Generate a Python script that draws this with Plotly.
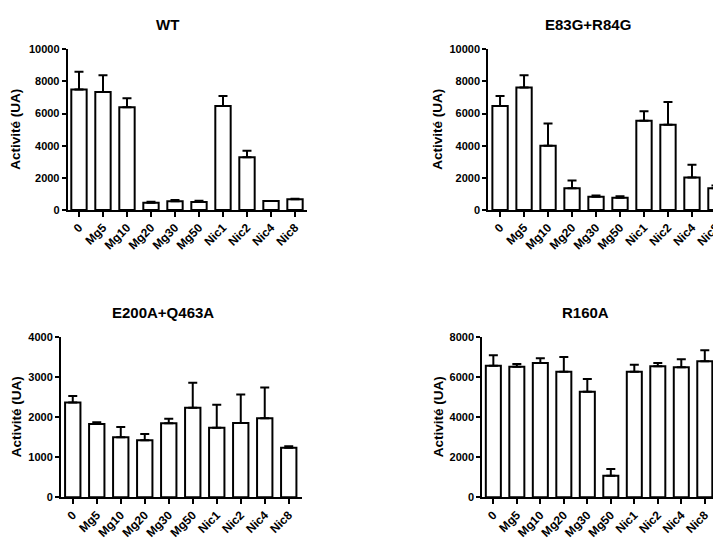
import plotly.graph_objects as go

categories = ["0", "Mg5", "Mg10", "Mg20", "Mg30", "Mg50", "Nic1", "Nic2", "Nic4", "Nic8"]

wt_mean = [7500, 7350, 6390, 450, 540, 500, 6470, 3280, 560, 665]
wt_err = [1100, 1030, 560, 70, 80, 70, 620, 410, 0, 40]

e83_mean = [6470, 7630, 4000, 1350, 830, 770, 5560, 5310, 2030, 1350]
e83_err = [620, 750, 1390, 480, 70, 80, 580, 1410, 790, 180]

e200_mean = [2370, 1835, 1500, 1425, 1850, 2240, 1740, 1860, 1975, 1240]
e200_err = [165, 40, 260, 160, 115, 625, 575, 710, 770, 35]

r160_mean = [6580, 6530, 6720, 6280, 5280, 1080, 6280, 6550, 6500, 6800]
r160_err = [520, 135, 235, 740, 635, 335, 350, 170, 400, 550]

titles = ["WT", "E83G+R84G", "E200A+Q463A", "R160A"]
y_title = "Activité (UA)"

FONT = "Liberation Sans, Arial, sans-serif"
OFF = 8  # default page body margin
W, H = 721 - OFF, 540 - OFF

panels = [
    # (means, errs, xdomain px, y0 px, ytop px, yrange, ytickvals, xrange) -- page pixels
    (wt_mean, wt_err, (67.7, 307), 210, 49.3, 10000, [0, 2000, 4000, 6000, 8000, 10000], [-0.47, 9.5]),
    (e83_mean, e83_err, (488.3, 721), 210, 49.3, 10000, [0, 2000, 4000, 6000, 8000, 10000], [-0.49, 9.21]),
    (e200_mean, e200_err, (61, 301.7), 497.3, 337.3, 4000, [0, 1000, 2000, 3000, 4000], [-0.49, 9.54]),
    (r160_mean, r160_err, (482.3, 721), 497.3, 337.3, 8000, [0, 2000, 4000, 6000, 8000], [-0.47, 9.69]),
]
title_pos = [(167, 24), (588, 24), (163, 313), (585, 313)]
ytitle_x = [16, 438, 16, 438]


def px(x):
    return (x - OFF) / W


def py(y):
    return (H - (y - OFF)) / H


fig = go.Figure()
layout = dict(
    width=W, height=H,
    margin=dict(l=0, r=0, t=0, b=0, autoexpand=False),
    paper_bgcolor="white", plot_bgcolor="white",
    showlegend=False,
    bargap=0.36,
    font=dict(family=FONT, color="black"),
    annotations=[],
)

for i, (m, e, (x0, x1), y0, yt, ymax, tv, xr) in enumerate(panels):
    n = i + 1
    xa = "x" if n == 1 else f"x{n}"
    ya = "y" if n == 1 else f"y{n}"
    fig.add_trace(go.Bar(
        x=list(range(len(categories))), y=m,
        xaxis=xa, yaxis=ya,
        marker=dict(color="white", line=dict(color="black", width=2)),
        error_y=dict(type="data", symmetric=False, array=e,
                     arrayminus=[0] * len(e), color="black",
                     thickness=2, width=4.5),
    ))
    xkey = "xaxis" if n == 1 else f"xaxis{n}"
    ykey = "yaxis" if n == 1 else f"yaxis{n}"
    layout[xkey] = dict(
        domain=[px(x0), min(px(x1), 1.0)],
        anchor=ya, range=xr, automargin=False,
        tickmode="array", tickvals=list(range(len(categories))), ticktext=categories,
        tickangle=-45, ticks="outside", ticklen=5, tickwidth=2, tickcolor="black",
        ticklabeloverflow="allow", ticklabelstandoff=-1,
        showline=True, linecolor="black", linewidth=2,
        showgrid=False, zeroline=False,
        tickfont=dict(family=FONT, size=12, color="black", weight="bold"),
        fixedrange=True,
    )
    layout[ykey] = dict(
        domain=[py(y0), py(yt)],
        anchor=xa, range=[0, ymax], automargin=False,
        tickmode="array", tickvals=tv, ticktext=[str(v) for v in tv],
        ticks="outside", ticklen=4, tickwidth=2, tickcolor="black",
        ticklabeloverflow="allow",
        showline=True, linecolor="black", linewidth=2,
        showgrid=False, zeroline=False,
        tickfont=dict(family=FONT, size=11, color="black", weight="bold"),
        fixedrange=True,
    )
    tx, ty = title_pos[i]
    layout["annotations"].append(dict(
        text=f"<b>{titles[i]}</b>", x=px(tx), y=py(ty),
        xref="paper", yref="paper", showarrow=False,
        xanchor="center", yanchor="middle",
        font=dict(family=FONT, size=15, color="black"),
    ))
    layout["annotations"].append(dict(
        text=f"<b>{y_title}</b>", x=px(ytitle_x[i]), y=py((y0 + yt) / 2),
        xref="paper", yref="paper", showarrow=False, textangle=-90,
        xanchor="center", yanchor="middle",
        font=dict(family=FONT, size=13.5, color="black"),
    ))

fig.update_layout(**layout)
fig.write_html("out.html")
